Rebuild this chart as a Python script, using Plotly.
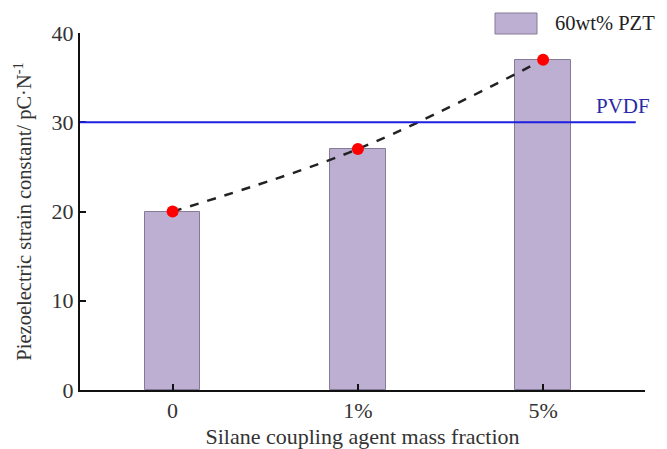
import plotly.graph_objects as go

categories = ["0", "1%", "5%"]
pzt_values = [20, 27, 37]
pvdf_value = 30

x_pos = list(range(len(categories)))
serif = "Liberation Serif, Times New Roman, serif"

# the html page body adds an 8px margin, so the figure is shrunk by 8px
# plot area on screen: x 80..645, y 33..390
def px_x(p):
    return (p - 80) / 565

def px_y(p):
    return (390 - p) / 357

fig = go.Figure()

fig.add_trace(go.Bar(
    x=x_pos, y=pzt_values, width=0.3,
    marker=dict(color="#bdafd2", line=dict(color="#857a97", width=1)),
    name="60wt% PZT", showlegend=False,
))

fig.add_trace(go.Scatter(
    x=x_pos, y=pzt_values, mode="lines+markers",
    line=dict(color="#222222", width=2.5, dash="dash", shape="spline"),
    marker=dict(color="#ff0000", size=12),
    showlegend=False,
))

# PVDF reference line
fig.add_shape(type="line", xref="x", yref="y", x0=-0.5, x1=2.5,
              y0=pvdf_value, y1=pvdf_value,
              line=dict(color="#1f1fe0", width=2))
fig.add_annotation(x=2.43, y=pvdf_value, text="PVDF", showarrow=False,
                   yanchor="bottom", yshift=2,
                   font=dict(family=serif, size=21, color="#2a2aa8"))

# hand-drawn legend
fig.add_shape(type="rect", xref="paper", yref="paper",
              x0=px_x(495), x1=px_x(537), y0=px_y(34), y1=px_y(13),
              fillcolor="#bdafd2", line=dict(color="#857a97", width=1))
fig.add_annotation(xref="paper", yref="paper", x=px_x(553), y=px_y(23),
                   text="60wt% PZT", showarrow=False,
                   xanchor="left", yanchor="middle",
                   font=dict(family=serif, size=20.5, color="#222222"))

fig.update_layout(
    width=659, height=441,
    margin=dict(l=72, r=22, t=25, b=59),
    plot_bgcolor="white", paper_bgcolor="white",
    font=dict(family=serif, size=22, color="#333333"),
    bargap=0,
    xaxis=dict(
        range=[-0.5, 2.55], tickvals=x_pos, ticktext=categories,
        showline=True, linecolor="#111111", linewidth=2,
        ticks="inside", ticklen=6, tickcolor="#111111", tickwidth=2,
        showgrid=False, zeroline=False, automargin=False,
        title=dict(text="Silane coupling agent mass fraction", standoff=9,
                   font=dict(size=22)),
    ),
    yaxis=dict(
        range=[0, 40], tickvals=[0, 10, 20, 30, 40],
        showline=True, linecolor="#111111", linewidth=2,
        ticks="inside", ticklen=6, tickcolor="#111111", tickwidth=2,
        showgrid=False, zeroline=False, automargin=False,
        title=dict(text="Piezoelectric strain constant/ pC·N<sup>-1</sup>",
                   standoff=14, font=dict(size=20.5)),
    ),
)

fig.write_html("out.html")
